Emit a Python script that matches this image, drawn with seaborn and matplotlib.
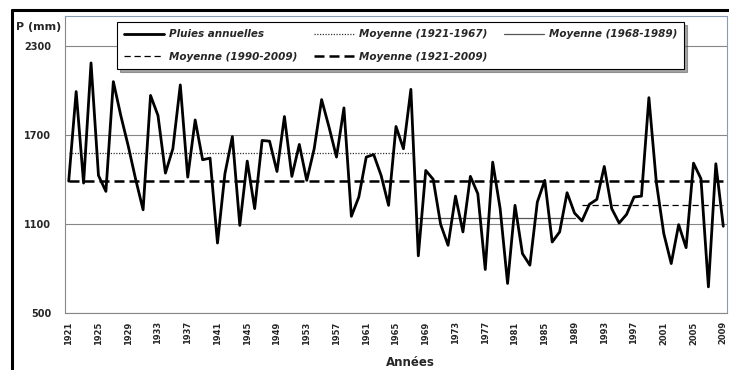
import numpy as np
import pandas as pd
import matplotlib
matplotlib.use("Agg")
import matplotlib.pyplot as plt
from matplotlib.lines import Line2D
import seaborn as sns

# annual rainfall (mm)
years = list(range(1921, 2010))
rain = [1388, 1991, 1375, 2184, 1426, 1319, 2058, 1830, 1625, 1400,
        1195, 1965, 1830, 1442, 1606, 2036, 1415, 1800, 1532, 1543,
        971, 1438, 1688, 1090, 1523, 1203, 1662, 1657, 1453, 1823,
        1420, 1635, 1393, 1606, 1937, 1751, 1550, 1881, 1151, 1281,
        1550, 1567, 1426, 1225, 1756, 1606, 2006, 885, 1460, 1400,
        1097, 956, 1287, 1046, 1420, 1303, 793, 1516, 1203, 699,
        1225, 900, 822, 1247, 1393, 978, 1046, 1310, 1173, 1120,
        1232, 1265, 1487, 1203, 1106, 1164, 1281, 1287, 1950, 1380,
        1035, 833, 1095, 940, 1509, 1404, 676, 1505, 1084]

# period means (start, end, value)
mean_periods = [(1921, 1967), (1968, 1989), (1990, 2009), (1921, 2009)]
mean_values = [1578, 1142, 1229, 1390]
mean_labels = ["Moyenne (1921-1967)", "Moyenne (1968-1989)",
               "Moyenne (1990-2009)", "Moyenne (1921-2009)"]

y_ticks = [500, 1100, 1700, 2300]

sns.set_style("white")
plt.rcParams['font.family'] = ['DejaVu Sans']

fig = plt.figure(figsize=(7.29, 3.70), dpi=100)
ax = fig.add_axes([65/729, 1 - 313/370, 662/729, 297/370])

df = pd.DataFrame({"annee": years, "pluie": rain})

styles = [
    dict(color="#333333", lw=0.9, ls=(0, (1, 1.2))),
    dict(color="#555555", lw=0.9, ls="-"),
    dict(color="black", lw=0.9, ls=(0, (5, 3))),
    dict(color="black", lw=1.8, ls=(0, (4, 2))),
]
handles = {}
for (a, b), v, lab, st in zip(mean_periods, mean_values, mean_labels, styles):
    d = pd.DataFrame({"annee": list(range(a, b + 1))})
    d["m"] = v
    sns.lineplot(data=d, x="annee", y="m", ax=ax, **st)
    handles[lab] = Line2D([], [], **st)

sns.lineplot(data=df, x="annee", y="pluie", ax=ax, color="black", lw=2.0)
handles["Pluies annuelles"] = Line2D([], [], color="black", lw=2.0)

ax.set_xlim(1920.5, 2009.5)
ax.set_ylim(500, 2500)
ax.set_yticks(y_ticks)
ax.set_yticklabels([str(t) for t in y_ticks], fontsize=7, fontweight="bold")
ax.set_xticks(years[::4])
ax.set_xticklabels([str(y) for y in years[::4]], rotation=90, fontsize=6,
                   fontweight="bold")
ax.set_xticks(np.arange(1920.5, 2010, 5), minor=True)
ax.tick_params(axis="x", which="major", length=0, pad=6)
ax.tick_params(axis="x", which="minor", length=3, color="#868686", width=0.8)
ax.tick_params(axis="y", length=3, color="#868686", width=0.8, pad=7)
ax.grid(axis="y", color="#868686", lw=0.8)
ax.set_axisbelow(True)
for s in ["left", "bottom"]:
    ax.spines[s].set_color("#868686")
    ax.spines[s].set_linewidth(0.8)
for s in ["top", "right"]:
    ax.spines[s].set_color("#8a9bb8")
    ax.spines[s].set_linewidth(0.8)

ax.set_xlabel("")
ax.set_ylabel("")
fig.text(410/729, 1 - 362/370, "Années", ha="center", va="center",
         fontsize=8.5, fontweight="bold")
fig.text(16/729, 1 - 27/370, "P (mm)", ha="left", va="center",
         fontsize=8, fontweight="bold")

order = ["Pluies annuelles", "Moyenne (1990-2009)", "Moyenne (1921-1967)",
         "Moyenne (1921-2009)", "Moyenne (1968-1989)"]
leg = ax.legend([handles[k] for k in order], order, ncol=3,
                loc="upper left", bbox_to_anchor=(117/729, 1 - 22/370),
                bbox_transform=fig.transFigure, borderaxespad=0,
                frameon=True, fancybox=False,
                shadow=True, edgecolor="black", framealpha=1,
                prop=dict(size=7.5, style="italic", weight="bold"),
                handlelength=3.8, columnspacing=1.6, borderpad=0.7,
                labelspacing=1.2, handletextpad=0.5)
leg.get_frame().set_linewidth(0.8)

# outer frame lines
fig.add_artist(Line2D([12/729, 1], [1 - 10/370, 1 - 10/370], color="black",
                      lw=2.2, transform=fig.transFigure))
fig.add_artist(Line2D([12/729, 12/729], [0, 1 - 10/370], color="black",
                      lw=2.2, transform=fig.transFigure))

fig.savefig("out.png", dpi=100)
